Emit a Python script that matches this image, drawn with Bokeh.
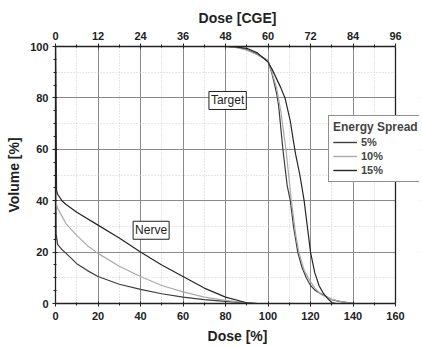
from bokeh.plotting import figure
from bokeh.models import (Range1d, LinearAxis, SingleIntervalTicker, Legend, LegendItem, Label,
                          BoxAnnotation, Span)
from bokeh.embed import file_html
from bokeh.resources import INLINE

# ---- data ----
series_names = ["5%", "10%", "15%"]
series_colors = ["#3c3c3c", "#a9a9a9", "#262626"]

nerve_dose_5 = [0, 0.3, 1, 3, 5, 10, 15, 20, 30, 40, 50, 60, 70, 80, 90, 95]
nerve_vol_5 = [100, 27, 23, 21, 19.5, 15.5, 12.8, 10.5, 7.5, 5.5, 3.8, 2.5, 1.5, 0.8, 0.2, 0]
nerve_dose_10 = [0, 0.3, 1, 3, 5, 10, 15, 20, 30, 40, 50, 60, 70, 80, 90, 95]
nerve_vol_10 = [100, 39, 37, 34, 31, 26.5, 22.5, 19.5, 14.5, 10.5, 7, 4.5, 2.5, 1.2, 0.3, 0]
nerve_dose_15 = [0, 0.5, 1, 3, 5, 10, 20, 30, 40, 50, 60, 70, 80, 90, 95]
nerve_vol_15 = [100, 44, 42.5, 40, 38.5, 35.5, 30.5, 25.5, 20, 15, 10.5, 6, 2.5, 0.3, 0]

target_dose_5 = [0, 80, 85, 90, 95, 100, 102, 104, 105, 107, 109, 110.5, 112, 114, 116, 118, 120, 122, 124, 126, 128, 130, 134, 140, 145, 160]
target_vol_5 = [100, 100, 99.7, 98.8, 97, 94.5, 89, 82, 77, 60, 46, 40, 30, 20, 14, 10, 7, 5.3, 4.2, 3.3, 2.4, 1.5, 0.7, 0.1, 0, 0]
target_dose_10 = [0, 80, 85, 90, 95, 100, 102, 104, 106, 108.5, 111, 113, 114.5, 117, 120, 122, 125, 128, 130, 135, 140, 145, 160]
target_vol_10 = [100, 100, 99.6, 98.6, 96.8, 94.5, 89.5, 84, 75, 59.5, 40, 27, 20, 13, 8.5, 6, 3.5, 2.4, 1.6, 0.6, 0.1, 0, 0]
target_dose_15 = [0, 80, 85, 90, 95, 100, 102, 104, 106, 108, 110.5, 112, 113, 115, 117, 118.5, 120, 122, 124, 126, 128, 130, 132, 160]
target_vol_15 = [100, 100, 99.8, 99.3, 97.5, 94, 91, 87.5, 84, 80, 71, 63, 58, 50, 40, 30, 20, 12, 7, 4, 2, 0.4, 0, 0]

dose_max = 160
cge_max = 96
structure_labels = ["Target", "Nerve"]
structure_label_x = [81, 45]
structure_label_y = [79, 28.5]

FONT = "Liberation Sans"
INK = "#222222"

# frame is made a little wider than the 0..160 axis so the legend may overhang it
FRAME_AXIS_PX = 340
FRAME_PX = 364
x_end = dose_max * FRAME_PX / FRAME_AXIS_PX
cge_end = cge_max * FRAME_PX / FRAME_AXIS_PX

p = figure(width=422, height=346, x_range=Range1d(0, x_end), y_range=Range1d(0, 100),
           output_backend="svg", toolbar_location=None,
           min_border_left=55, min_border_right=3, min_border_top=46, min_border_bottom=43)
p.background_fill_color = "white"
p.border_fill_color = "white"
p.outline_line_color = None

bottom = p.xaxis[0]
left = p.yaxis[0]
bottom.axis_label = "Dose [%]"
left.axis_label = "Volume [%]"
bottom.bounds = (0, dose_max)

p.extra_x_ranges = {"cge": Range1d(0, cge_end)}
top = LinearAxis(x_range_name="cge", axis_label="Dose [CGE]", bounds=(0, cge_max))
top.ticker = SingleIntervalTicker(interval=12, num_minor_ticks=2)
p.add_layout(top, "above")

bottom.ticker = SingleIntervalTicker(interval=20, num_minor_ticks=2)
left.ticker = SingleIntervalTicker(interval=20, num_minor_ticks=4)

for ax in [bottom, left, top]:
    ax.axis_line_color = INK
    ax.axis_line_width = 1.3
    ax.major_tick_line_color = INK
    ax.minor_tick_line_color = INK
    ax.major_tick_out = 3
    ax.major_tick_in = 2
    ax.minor_tick_out = 2
    ax.minor_tick_in = 1
    ax.major_label_text_font = FONT
    ax.major_label_text_font_style = "bold"
    ax.major_label_text_font_size = "11px"
    ax.major_label_text_color = INK
    ax.axis_label_text_font = FONT
    ax.axis_label_text_font_style = "bold"
    ax.axis_label_text_font_size = "14px"
    ax.axis_label_text_color = INK
bottom.major_label_standoff = 5
bottom.axis_label_standoff = 5
top.major_label_standoff = 4
top.axis_label_standoff = 3
left.major_label_standoff = 4
left.axis_label_standoff = 5

for g in [p.xgrid[0], p.ygrid[0]]:
    g.grid_line_color = "#8a8a8a"
    g.grid_line_width = 1
    g.minor_grid_line_color = "#cfcfcf"
    g.minor_grid_line_dash = "1 2"
p.xgrid[0].ticker = SingleIntervalTicker(interval=20, num_minor_ticks=2)
p.ygrid[0].ticker = SingleIntervalTicker(interval=20, num_minor_ticks=2)

nerve = [(nerve_dose_5, nerve_vol_5), (nerve_dose_10, nerve_vol_10), (nerve_dose_15, nerve_vol_15)]
target = [(target_dose_5, target_vol_5), (target_dose_10, target_vol_10), (target_dose_15, target_vol_15)]

items = []
for i, name in enumerate(series_names):
    r1 = p.line(nerve[i][0], nerve[i][1], line_color=series_colors[i], line_width=1.2)
    r2 = p.line(target[i][0], target[i][1], line_color=series_colors[i], line_width=1.2)
    items.append(LegendItem(label=name, renderers=[r1, r2]))

# blank out the strip right of the 0..160 axis, then draw the right frame edge
p.add_layout(BoxAnnotation(left=dose_max, fill_color="white", fill_alpha=1, line_alpha=0))
p.add_layout(Span(location=dose_max, dimension="height", line_color=INK, line_width=1.3))

legend = Legend(items=items, location=(273, 121), title="Energy Spread")
legend.title_text_font = FONT
legend.title_text_font_style = "bold"
legend.title_text_font_size = "12px"
legend.title_standoff = 1
legend.label_text_font = FONT
legend.label_text_font_style = "bold"
legend.label_text_font_size = "11px"
legend.label_height = 14
legend.glyph_height = 14
legend.glyph_width = 24
legend.label_standoff = 4
legend.spacing = 0
legend.padding = 4
legend.margin = 0
legend.border_line_color = INK
legend.border_line_width = 1.2
legend.background_fill_alpha = 1
p.add_layout(legend, "center")

for t, x, y in zip(structure_labels, structure_label_x, structure_label_y):
    p.add_layout(Label(x=x, y=y, text=t, text_align="center", text_baseline="middle",
                       text_font=FONT, text_font_size="12px", text_color=INK,
                       border_line_color=INK, border_line_width=1,
                       background_fill_color="white", padding=2))

open("out.html", "w").write(file_html(p, INLINE))
